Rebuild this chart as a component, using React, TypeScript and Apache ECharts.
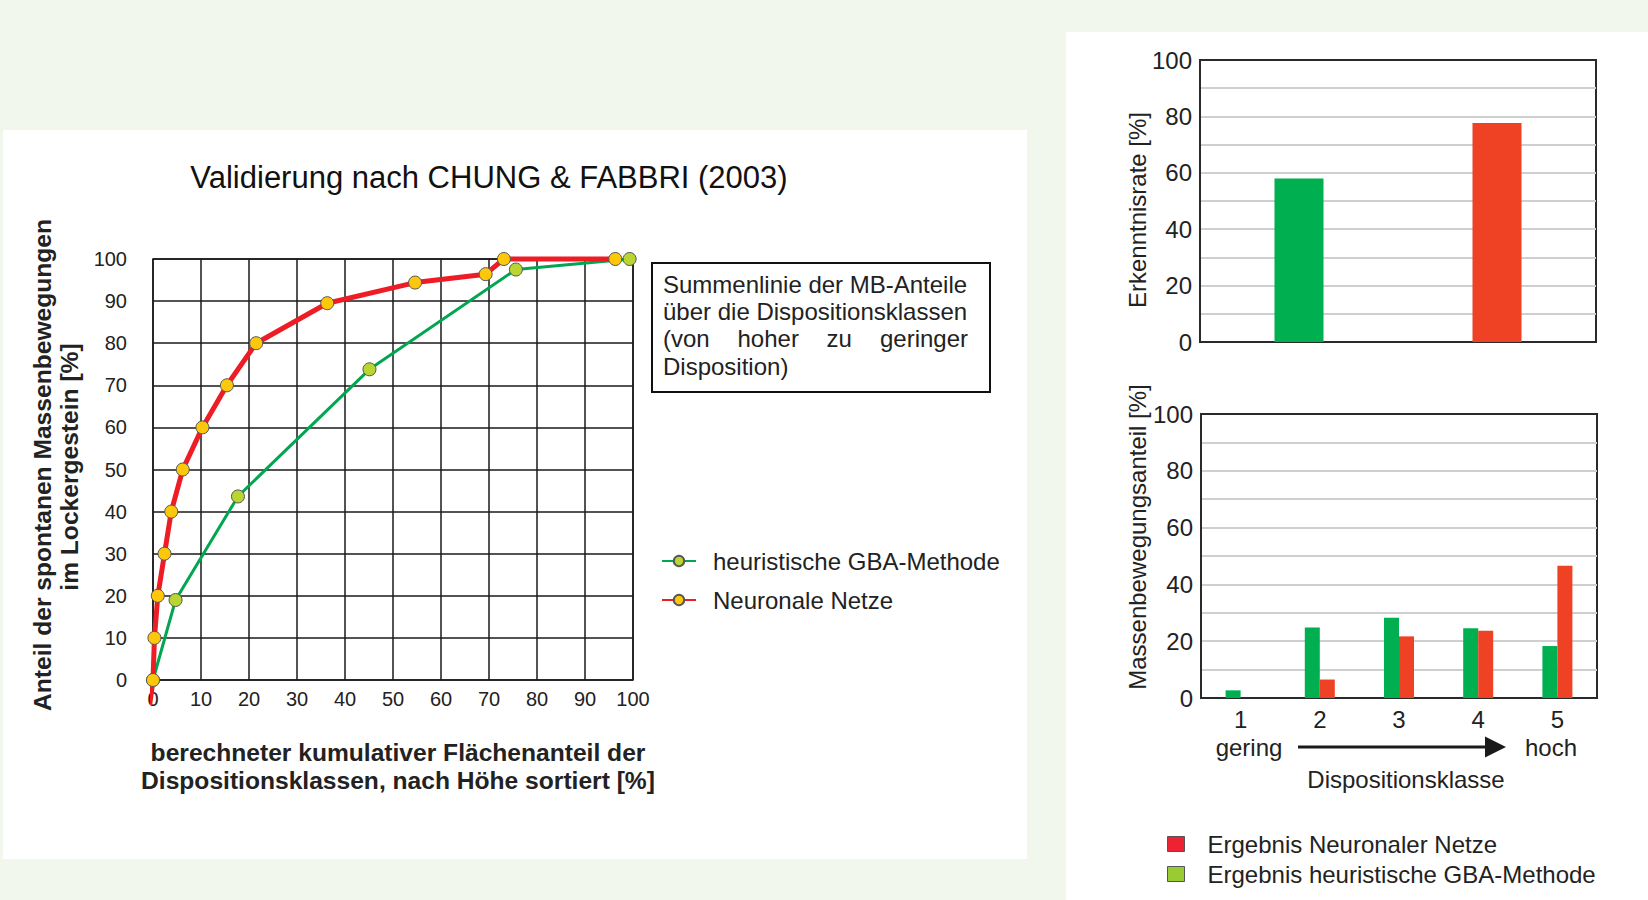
import React, { useEffect, useRef } from "react";
import * as echarts from "echarts";

// ---- data ----
const areaTicks = [0, 10, 20, 30, 40, 50, 60, 70, 80, 90, 100];
// cumulative curves: [cumulative area share %, cumulative share of mass movements %]
const nnCurve: [number, number][] = [
  [-0.7, -6], [0, 0], [0.3, 10], [1.0, 20], [2.4, 30], [3.8, 40], [6.2, 50], [10.3, 60],
  [15.4, 70], [21.5, 80], [36.3, 89.5], [54.6, 94.4], [69.3, 96.4], [73.1, 100], [96.3, 100],
];
const gbaCurve: [number, number][] = [
  [0, 0], [4.7, 19], [17.7, 43.6], [45.1, 73.8], [75.6, 97.5], [99.3, 100],
];
const curveNames = ["heuristische GBA-Methode", "Neuronale Netze"];

const rateCategories = ["GBA-Methode", "Neuronale Netze"];
const rateValues = [58, 77.7];

const classCategories = ["1", "2", "3", "4", "5"];
const gbaShare = [2.7, 24.8, 28.3, 24.6, 18.3];
const nnShare = [0, 6.5, 21.7, 23.7, 46.6];
const barNames = ["Ergebnis Neuronaler Netze", "Ergebnis heuristische GBA-Methode"];

const FONT = "'Liberation Sans', Arial, Helvetica, sans-serif";
const TXT = "#222";
const BOX = "#2a2a2a";
const GRIDGREY = "#cfcfcf";
const splitColors = [BOX, GRIDGREY, GRIDGREY, GRIDGREY, GRIDGREY, GRIDGREY, GRIDGREY, GRIDGREY, GRIDGREY, GRIDGREY, BOX];

export default function App() {
  const ref = useRef<HTMLDivElement>(null);
  useEffect(() => {
    if (!ref.current) return;
    const chart = echarts.init(ref.current, undefined, { renderer: "svg" });
    const t = (x: number, y: number, text: string, size: number, extra: any = {}) => ({
      type: "text",
      x,
      y,
      z: 50,
      rotation: extra.rotation || 0,
      style: {
        text,
        fill: extra.fill || TXT,
        font: `${extra.bold ? "bold " : ""}${size}px ${FONT}`,
        align: extra.align || "center",
        verticalAlign: "middle",
      },
    });
    const rightY = (gridIndex: number) => ({
      gridIndex, type: "value", min: 0, max: 100, interval: 10,
      axisLine: { show: true, lineStyle: { color: BOX, width: 2 } }, axisTick: { show: false },
      axisLabel: { fontSize: 24, color: TXT, margin: 8, formatter: (v: number) => (v % 20 === 0 ? String(v) : "") },
      splitLine: { show: true, lineStyle: { color: splitColors, width: 2 } },
    });
    const option: any = {
      animation: false,
      backgroundColor: "#f1f7ec",
      textStyle: { fontFamily: FONT },
      grid: [
        { left: 153, top: 259, width: 480, height: 421, show: true, borderColor: "#1a1a1a", borderWidth: 1.5, backgroundColor: "#fff" },
        { left: 1200, top: 60, width: 396, height: 282, show: true, borderColor: BOX, borderWidth: 2, backgroundColor: "#fff" },
        { left: 1201, top: 414, width: 396, height: 284, show: true, borderColor: BOX, borderWidth: 2, backgroundColor: "#fff" },
      ],
      xAxis: [
        {
          gridIndex: 0, type: "value", min: areaTicks[0], max: areaTicks[areaTicks.length - 1], interval: 10,
          axisLine: { show: false }, axisTick: { show: false },
          axisLabel: { fontSize: 20, color: TXT, margin: 9 },
          splitLine: { show: true, lineStyle: { color: "#1a1a1a", width: 1.5 } },
        },
        {
          gridIndex: 1, type: "category", data: rateCategories,
          axisLine: { show: false }, axisTick: { show: false }, axisLabel: { show: false },
        },
        {
          gridIndex: 2, type: "category", data: classCategories,
          axisLine: { show: false }, axisTick: { show: false },
          axisLabel: { fontSize: 24, color: TXT, margin: 9 },
        },
      ],
      yAxis: [
        {
          gridIndex: 0, type: "value", min: 0, max: 100, interval: 10,
          axisLine: { show: false }, axisTick: { show: false },
          axisLabel: { fontSize: 20, color: TXT, margin: 26 },
          splitLine: { show: true, lineStyle: { color: "#1a1a1a", width: 1.5 } },
        },
        rightY(1),
        rightY(2),
      ],
      legend: [
        {
          data: curveNames,
          orient: "vertical", left: 656, top: 544, itemWidth: 34, itemHeight: 13, itemGap: 15,
          selectedMode: false,
          textStyle: { fontSize: 24, color: TXT, padding: [0, 0, 0, 12] },
        },
        {
          data: [
            { name: barNames[0], icon: "rect", itemStyle: { color: "#ee2233", borderColor: "#555", borderWidth: 1 } },
            { name: barNames[1], icon: "rect", itemStyle: { color: "#99cc33", borderColor: "#555", borderWidth: 1 } },
          ],
          orient: "vertical", left: 1162, top: 827, itemWidth: 17, itemHeight: 15, itemGap: 6,
          selectedMode: false,
          textStyle: { fontSize: 24, color: TXT, padding: [0, 0, 0, 18] },
        },
      ],
      series: [
        {
          name: curveNames[0], type: "line", xAxisIndex: 0, yAxisIndex: 0, data: gbaCurve,
          symbol: "circle", symbolSize: 13, clip: false,
          lineStyle: { color: "#00a650", width: 3 },
          itemStyle: { color: "#b8d531", borderColor: "#555", borderWidth: 1 },
          z: 3,
        },
        {
          name: curveNames[1], type: "line", xAxisIndex: 0, yAxisIndex: 0,
          data: nnCurve.map((p, i) => (i === 0 ? { value: p, symbol: "none" } : p)),
          symbol: "circle", symbolSize: 13, clip: false,
          lineStyle: { color: "#ee1c24", width: 5 },
          itemStyle: { color: "#fdc70c", borderColor: "#555", borderWidth: 1 },
          z: 4,
        },
        {
          name: "Erkenntnisrate", type: "bar", xAxisIndex: 1, yAxisIndex: 1, barWidth: 49,
          data: rateValues.map((v, i) => ({ value: v, itemStyle: { color: i === 0 ? "#00b050" : "#ef4123" } })),
        },
        {
          name: barNames[1], type: "bar", xAxisIndex: 2, yAxisIndex: 2, barWidth: 15, barGap: "0%",
          data: gbaShare, itemStyle: { color: "#00b050" },
        },
        {
          name: barNames[0], type: "bar", xAxisIndex: 2, yAxisIndex: 2, barWidth: 15, barGap: "0%",
          data: nnShare, itemStyle: { color: "#ef4123" },
        },
      ],
      graphic: [
        { type: "rect", z: -100, shape: { x: 3, y: 130, width: 1024, height: 729 }, style: { fill: "#fff" } },
        { type: "rect", z: -100, shape: { x: 1066, y: 32, width: 582, height: 868 }, style: { fill: "#fff" } },
        t(489, 177, "Validierung nach CHUNG & FABBRI (2003)", 31, { fill: "#111" }),
        t(42, 465, "Anteil der spontanen Massenbewegungen", 24.6, { bold: true, rotation: Math.PI / 2 }),
        t(69, 467, "im Lockergestein [%]", 24.6, { bold: true, rotation: Math.PI / 2 }),
        t(398, 752, "berechneter kumulativer Flächenanteil der", 24.6, { bold: true }),
        t(398, 780, "Dispositionsklassen, nach Höhe sortiert [%]", 24.6, { bold: true }),
        { type: "rect", z: 40, shape: { x: 652, y: 263, width: 338, height: 129 }, style: { fill: "#fff", stroke: "#111", lineWidth: 2 } },
        t(663, 284, "Summenlinie der MB-Anteile", 24, { align: "left" }),
        t(663, 311, "über die Dispositionsklassen", 24, { align: "left" }),
        t(663, 338.5, "(von", 24, { align: "left" }),
        t(737.5, 338.5, "hoher", 24, { align: "left" }),
        t(826.5, 338.5, "zu", 24, { align: "left" }),
        t(968, 338.5, "geringer", 24, { align: "right" }),
        t(663, 366, "Disposition)", 24, { align: "left" }),
        t(1137, 210, "Erkenntnisrate [%]", 24, { rotation: Math.PI / 2 }),
        t(1137, 537, "Massenbewegungsanteil [%]", 24, { rotation: Math.PI / 2 }),
        t(1249, 747, "gering", 24),
        t(1551, 747, "hoch", 24),
        t(1406, 779, "Dispositionsklasse", 24),
        { type: "line", z: 50, shape: { x1: 1298, y1: 747, x2: 1488, y2: 747 }, style: { stroke: "#1a1a1a", lineWidth: 3 } },
        { type: "polygon", z: 50, shape: { points: [[1485, 736.5], [1506, 747], [1485, 757.5]] }, style: { fill: "#1a1a1a" } },
      ],
    };
    chart.setOption(option);
    return () => chart.dispose();
  }, []);
  return <div ref={ref} style={{ position: "fixed", left: 0, top: 0, width: 1648, height: 900 }} />;
}
